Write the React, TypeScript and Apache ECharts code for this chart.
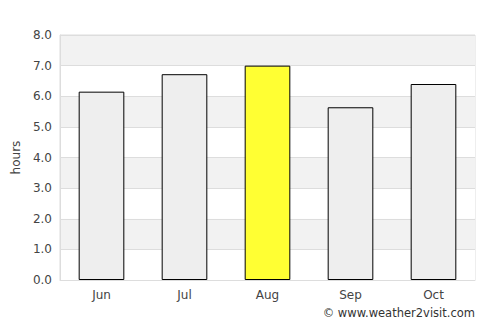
import React, { useEffect, useRef } from "react";
import * as echarts from "echarts";

const months = ["Jun", "Jul", "Aug", "Sep", "Oct"];
const hours = [6.15, 6.72, 7.0, 5.64, 6.4];
const highlightIndex = 2;

export default function App() {
  const ref = useRef<HTMLDivElement>(null);
  useEffect(() => {
    if (!ref.current) return;
    const chart = echarts.init(ref.current, undefined, { renderer: "svg" });
    chart.setOption({
      animation: false,
      textStyle: { fontFamily: "DejaVu Sans" },
      grid: {
        left: 60,
        right: 25,
        top: 35,
        bottom: 45,
        show: true,
        borderColor: "#dddddd",
        borderWidth: 1,
        backgroundColor: "transparent",
      },
      xAxis: {
        type: "category",
        data: months,
        axisLine: { lineStyle: { color: "#dddddd" } },
        axisTick: { show: false },
        axisLabel: { color: "#444444", fontSize: 12, margin: 9 },
      },
      yAxis: {
        type: "value",
        min: 0,
        max: 8,
        interval: 1,
        name: "hours",
        nameLocation: "middle",
        nameGap: 36,
        nameTextStyle: { color: "#444444", fontSize: 12 },
        axisLine: { show: true, lineStyle: { color: "#dddddd" } },
        axisLabel: {
          color: "#444444",
          fontSize: 12,
          margin: 8,
          formatter: (v: number) => v.toFixed(1),
        },
        splitLine: { lineStyle: { color: "#dddddd" } },
        splitArea: { show: true, areaStyle: { color: ["#ffffff", "#f2f2f2"] } },
      },
      series: [
        {
          type: "bar",
          barWidth: "55%",
          data: hours.map((v, i) => ({
            value: v,
            itemStyle: {
              color: i === highlightIndex ? "#ffff33" : "#eeeeee",
              borderColor: "#000000",
              borderWidth: 1,
            },
          })),
        },
      ],
      graphic: [
        {
          type: "text",
          right: 25,
          top: 307,
          style: {
            text: "© www.weather2visit.com",
            fill: "#333333",
            fontSize: 11.5,
            fontFamily: "DejaVu Sans",
          },
        },
      ],
    });
    return () => chart.dispose();
  }, []);
  return <div ref={ref} style={{ width: 500, height: 325, position: "absolute", left: 0, top: 0 }} />;
}
